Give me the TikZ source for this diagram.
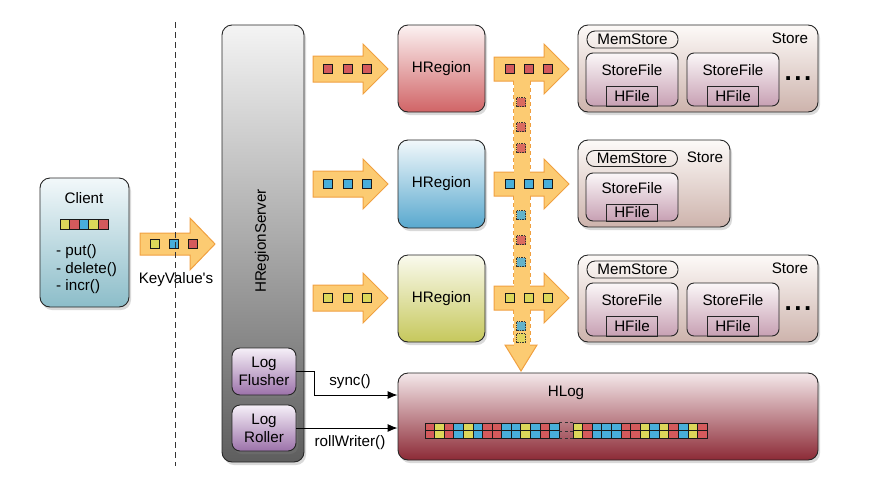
\documentclass[tikz,border=0pt]{standalone}
\usepackage{fontspec}
\setmainfont{Liberation Sans}
\usetikzlibrary{shadows,arrows.meta,calc}
\definecolor{clienttop}{HTML}{F2F8FA}\definecolor{clientbot}{HTML}{8CBDC9}
\definecolor{srvtop}{HTML}{F4F4F4}\definecolor{srvbot}{HTML}{5E5E5E}
\definecolor{logtop}{HTML}{F6F0F8}\definecolor{logbot}{HTML}{9C72AA}
\definecolor{rAtop}{HTML}{FCF2F2}\definecolor{rAbot}{HTML}{D06466}
\definecolor{rBtop}{HTML}{F2F8FB}\definecolor{rBbot}{HTML}{58A8CE}
\definecolor{rCtop}{HTML}{FAFAEE}\definecolor{rCbot}{HTML}{C6C85C}
\definecolor{sttop}{HTML}{FDFAF8}\definecolor{stbot}{HTML}{CDB3AC}
\definecolor{sftop}{HTML}{FBF7F8}\definecolor{sfbot}{HTML}{C7A0B3}
\definecolor{hltop}{HTML}{F4E8EA}\definecolor{hlbot}{HTML}{8C2A36}
\definecolor{arrfill}{HTML}{FCCB72}\definecolor{arrline}{HTML}{F0A040}
\definecolor{cr}{HTML}{D45A5C}\definecolor{cy}{HTML}{DCD75A}\definecolor{cb}{HTML}{48AEDA}
\newcommand{\blockarrow}[5]{%
  \filldraw[arrowsty] (#1,{#3-#4}) -- ({#2-25},{#3-#4}) -- ({#2-25},{#3-#5}) -- (#2,#3)
    -- ({#2-25},{#3+#5}) -- ({#2-25},{#3+#4}) -- (#1,{#3+#4}) -- cycle;}
\begin{document}
\begin{tikzpicture}[x=1pt,y=-1pt,
  every node/.style={font=\fontsize{15.2}{18}\selectfont, inner sep=0pt, text=black},
  shadowed/.style={drop shadow={shadow xshift=2pt, shadow yshift=-3pt, opacity=0.3}},
  box/.style={draw=black!85, line width=0.9pt, rounded corners=10pt, shadowed},
  sfbox/.style={draw=black!85, line width=0.9pt, rounded corners=7pt, top color=sftop, bottom color=sfbot, minimum width=92pt},
  hfbox/.style={draw=black!85, line width=0.9pt, minimum width=51pt, anchor=south},
  membox/.style={draw=black!85, line width=0.9pt, rounded corners=8pt, minimum width=91pt},
  arrowsty/.style={fill=arrfill, draw=arrline, line width=1pt, line join=miter},
  sq/.style={draw=black!90, line width=0.7pt, minimum width=9pt, minimum height=9pt},
  dsq/.style={draw=black!80, line width=0.7pt, densely dotted, minimum width=9pt, minimum height=9pt},
  cell/.style={draw=black!90, line width=0.6pt, minimum width=9.57pt, minimum height=7.5pt},
  conn/.style={draw=black, line width=0.9pt, -{Latex[length=10pt,width=8pt]}},
  dotsty/.style={font=\fontsize{26}{26}\selectfont\bfseries},
  shaftdash/.style={draw=arrline, line width=0.9pt, dash pattern=on 4pt off 3pt}]
\useasboundingbox (0,0) rectangle (870,480);

% Client
\node[box, minimum width=89pt, minimum height=129pt, top color=clienttop, bottom color=clientbot] (client) at (84.5,242.5) {};
\node (clienttxt) at (84,198) {Client};
\foreach \c [count=\i] in {cy,cr,cb,cy,cr}
  \node[sq, fill=\c, minimum width=9.6pt, minimum height=10pt] (cs\i) at ({60+9.6*(\i-0.5)},224) {};
\node[anchor=west, align=left, font=\fontsize{15.2}{17.5}\selectfont] (ops) at (56,269.5) {- put()\\- delete()\\- incr()};

% KeyValue arrow
\blockarrow{140}{215}{244}{11}{26}
\foreach \x/\c [count=\i] in {155/cy,174/cb,193/cr}
  \node[sq, fill=\c] (kv\i) at (\x,244) {};
\node (kvlabel) at (176,280) {KeyValue\textquotesingle s};
\draw[black!80, line width=0.9pt, dash pattern=on 6pt off 4pt] (175,22) -- (175,466);

% HRegionServer
\node[box, minimum width=82pt, minimum height=437pt, top color=srvtop, bottom color=srvbot] (server) at (263,243.5) {};
\node[rotate=90] (srvtxt) at (262,241) {HRegionServer};
\node[box, rounded corners=8pt, minimum width=64pt, minimum height=47pt, top color=logtop, bottom color=logbot, align=center] (flusher) at (264,371.5) {Log\\Flusher};
\node[box, rounded corners=8pt, minimum width=64pt, minimum height=46pt, top color=logtop, bottom color=logbot, align=center] (roller) at (264,428) {Log\\Roller};

% arrows to regions
\foreach \y/\c [count=\j] in {69/cr,184/cb,298/cy} {
  \blockarrow{313}{388}{\y}{13}{25}
  \foreach \x [count=\i] in {328,348,367}
    \node[sq, fill=\c] (ra\j\i) at (\x,\y) {};
}

% HRegions
\node[box, minimum width=87pt, minimum height=87pt, top color=rAtop, bottom color=rAbot] (hr1) at (441.5,68.5) {HRegion};
\node[box, minimum width=87pt, minimum height=88pt, top color=rBtop, bottom color=rBbot] (hr2) at (441.5,184) {HRegion};
\node[box, minimum width=87pt, minimum height=87pt, top color=rCtop, bottom color=rCbot] (hr3) at (441.5,298.5) {HRegion};

% T arrows
\foreach \y in {69,184,298} { \blockarrow{494}{569}{\y}{12}{25} }
\filldraw[arrowsty] (505,345) -- (537,345) -- (521,371) -- cycle;
\fill[arrfill] (513.5,69) rectangle (529.5,346);
\draw[shaftdash] (513,81) -- (513,172) (530,81) -- (530,172)
  (513,196) -- (513,286) (530,196) -- (530,286)
  (513,310) -- (513,345) (530,310) -- (530,345);
\foreach \y/\c [count=\j] in {69/cr,184/cb,298/cy} {
  \foreach \x [count=\i] in {510,529,548}
    \node[sq, fill=\c] (ta\j\i) at (\x,\y) {};
}
\foreach \y/\c [count=\i] in {102/cr,127/cr,148/cr,215/cb,240/cr,262/cb,326/cb,338/cy}
  \node[dsq, fill=\c!85!arrfill] (ds\i) at (521,\y) {};

% Store 1
\node[box, minimum width=240pt, minimum height=87pt, top color=sttop, bottom color=stbot] (store1) at (698,68.5) {};
\node[membox, minimum height=17pt] (ms1) at (632.5,39.5) {MemStore};
\node (stl1) at (790,38) {Store};
\node[sfbox, minimum height=53pt] (sfA1) at (632,79.5) {};
\node[sfbox, minimum height=53pt] (sfA2) at (733,79.5) {};
\node (sfAt1) at (632,70) {StoreFile};
\node (sfAt2) at (733,70) {StoreFile};
\node[hfbox, minimum height=20pt] (hfA1) at (sfA1.south) {HFile};
\node[hfbox, minimum height=20pt] (hfA2) at (sfA2.south) {HFile};
\node[dotsty] (dots1) at (798,79) {.\kern2.5pt.\kern2.5pt.};

% Store 2
\node[box, minimum width=152pt, minimum height=87pt, top color=sttop, bottom color=stbot] (store2) at (654,183.5) {};
\node[membox, minimum height=16pt] (ms2) at (632,158.5) {MemStore};
\node (stl2) at (705,157) {Store};
\node[sfbox, minimum height=48pt] (sfB1) at (632,197) {};
\node (sfBt1) at (632,188) {StoreFile};
\node[hfbox, minimum height=17pt] (hfB1) at (sfB1.south) {HFile};

% Store 3
\node[box, minimum width=240pt, minimum height=87pt, top color=sttop, bottom color=stbot] (store3) at (698,298.5) {};
\node[membox, minimum height=17pt] (ms3) at (632.5,269.5) {MemStore};
\node (stl3) at (790,268) {Store};
\node[sfbox, minimum height=53pt] (sfC1) at (632,309.5) {};
\node[sfbox, minimum height=53pt] (sfC2) at (733,309.5) {};
\node (sfCt1) at (632,300) {StoreFile};
\node (sfCt2) at (733,300) {StoreFile};
\node[hfbox, minimum height=20pt] (hfC1) at (sfC1.south) {HFile};
\node[hfbox, minimum height=20pt] (hfC2) at (sfC2.south) {HFile};
\node[dotsty] (dots3) at (798,309) {.\kern2.5pt.\kern2.5pt.};

% HLog
\node[box, minimum width=420pt, minimum height=87pt, top color=hltop, bottom color=hlbot] (hlog) at (608,416.5) {};
\node (hlogtxt) at (566,393) {HLog};
\foreach \c [count=\i] in {cr,cy,cr,cb,cy,cb,cr,cr,cb,cb,cy,cb,cr,cb} {
  \node[cell, fill=\c] (hla\i) at ({425+9.57*(\i-0.5)},426.75) {};
  \node[cell, fill=\c] (hlb\i) at ({425+9.57*(\i-0.5)},434.25) {};
}
\foreach \c [count=\i] in {cy,cr,cb,cb,cb,cr,cr,cy,cb,cy,cr,cb,cy,cr} {
  \node[cell, fill=\c] (hlc\i) at ({573+9.57*(\i-0.5)},426.75) {};
  \node[cell, fill=\c] (hld\i) at ({573+9.57*(\i-0.5)},434.25) {};
}
\draw[black!80, line width=0.6pt, dash pattern=on 3pt off 2.5pt]
  (hla14.north east) -- (hlc1.north west)
  (hla14.south east) -- (hlc1.south west)
  (hlb14.south east) -- (hld1.south west);

% connectors
\draw[conn] (flusher.east) -- ++(18,0) |- (hlog.west |- 0,395);
\node (synclbl) at (350,382) {sync()};
\draw[conn] (roller.east) -- (roller.east -| hlog.west);
\node (rolllbl) at (350,443) {rollWriter()};
\end{tikzpicture}
\end{document}
